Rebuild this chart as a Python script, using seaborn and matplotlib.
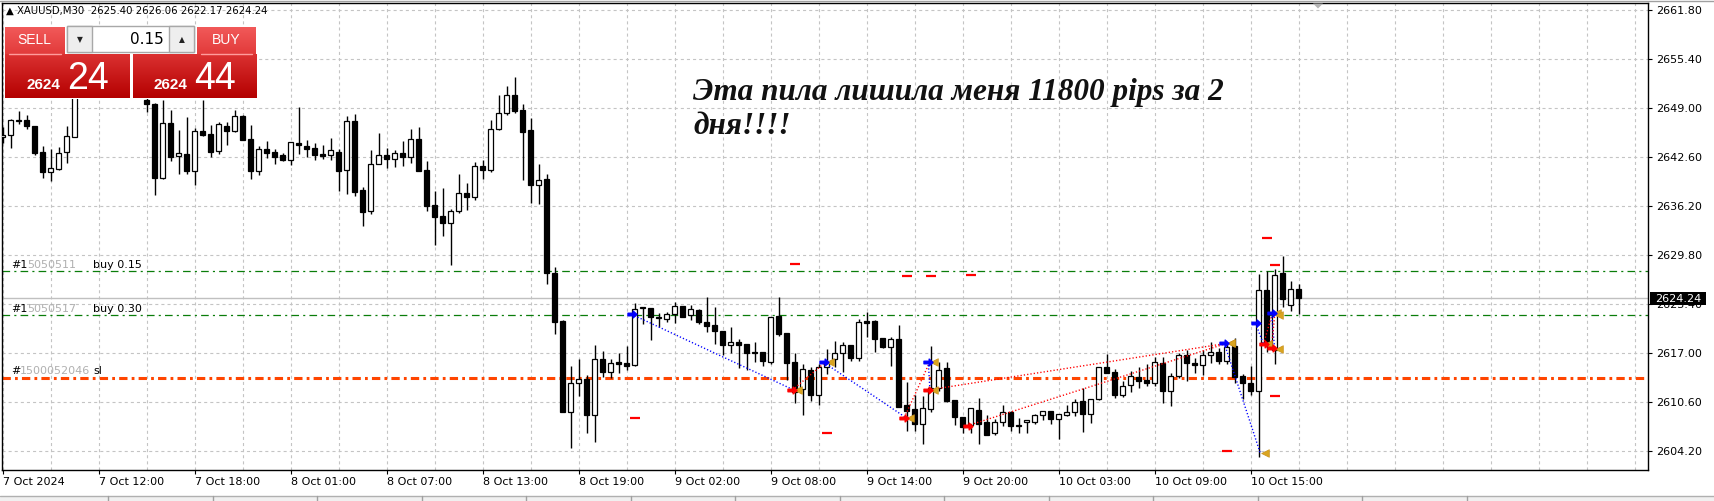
import numpy as np
import pandas as pd
import matplotlib
matplotlib.use("Agg")
import matplotlib.pyplot as plt
from matplotlib.colors import LinearSegmentedColormap
from matplotlib.path import Path
import matplotlib.patches as mpatches
import seaborn as sns

# ---------------- data ----------------
x_labels = ["7 Oct 2024", "7 Oct 12:00", "7 Oct 18:00", "8 Oct 01:00", "8 Oct 07:00",
            "8 Oct 13:00", "8 Oct 19:00", "9 Oct 02:00", "9 Oct 08:00", "9 Oct 14:00",
            "9 Oct 20:00", "10 Oct 03:00", "10 Oct 09:00", "10 Oct 15:00"]
price_ticks = [2604.20, 2610.60, 2617.00, 2623.40, 2629.80,
               2636.20, 2642.60, 2649.00, 2655.40, 2661.80]

opens = [2645.21, 2645.47, 2647.35, 2647.47, 2646.69, 2643.29, 2640.64, 2641.12, 2643.25, 2645.30,
         2652.10, 2653.60, 2652.80, 2651.60, 2653.20, 2654.70, 2653.50, 2651.90, 2650.09, 2649.56,
         2639.94, 2647.08, 2642.73, 2642.99, 2640.77, 2646.04, 2645.64, 2643.38, 2646.65, 2646.08,
         2648.00, 2644.95, 2640.77, 2643.64, 2643.29, 2642.86, 2642.20, 2644.47, 2644.08, 2643.82,
         2643.03, 2642.86, 2643.29, 2640.90, 2647.30, 2638.29, 2635.54, 2641.77, 2642.86, 2642.42,
         2643.12, 2642.68, 2644.95, 2640.94, 2636.33, 2634.93, 2633.98, 2635.54, 2637.89, 2637.46,
         2641.42, 2640.90, 2646.25, 2648.34, 2650.70, 2648.78, 2646.17, 2638.94, 2639.77, 2627.44,
         2621.22, 2609.38, 2613.07, 2613.64, 2608.98, 2616.21, 2614.60, 2615.86, 2615.73, 2615.51,
         2622.87, 2622.92, 2621.65, 2621.52, 2622.09, 2623.14, 2621.96, 2622.62, 2621.09, 2620.70,
         2619.92, 2618.04, 2618.48, 2618.22, 2617.17, 2617.17, 2615.91, 2621.87, 2619.65, 2615.87,
         2612.38, 2614.82, 2611.60, 2615.17, 2616.22, 2617.00, 2618.04, 2616.43, 2621.22, 2621.22,
         2618.96, 2617.87, 2618.83, 2610.21, 2609.68, 2607.81, 2609.68, 2612.43, 2615.04, 2610.90,
         2608.68, 2607.59, 2609.55, 2608.03, 2606.55, 2607.99, 2609.29, 2607.68, 2607.99, 2608.07,
         2608.90, 2609.42, 2608.46, 2608.99, 2609.29, 2610.73, 2609.03, 2610.99, 2615.21, 2614.51,
         2611.60, 2612.82, 2613.86, 2613.51, 2613.08, 2615.78, 2612.12, 2614.08, 2616.78, 2615.73,
         2615.43, 2616.73, 2617.17, 2615.95, 2617.95, 2614.03, 2613.12, 2612.12, 2625.27, 2617.43,
         2627.53, 2623.36, 2625.40]
highs = [2646.60, 2647.56, 2648.65, 2648.13, 2646.75, 2644.08, 2643.68, 2643.90, 2646.69, 2652.60,
         2654.30, 2655.00, 2654.10, 2653.70, 2655.40, 2656.10, 2654.20, 2652.80, 2650.30, 2649.74,
         2650.09, 2648.78, 2646.17, 2647.82, 2646.39, 2650.09, 2646.82, 2647.26, 2647.26, 2648.78,
         2648.10, 2646.82, 2644.08, 2644.73, 2643.64, 2643.12, 2644.62, 2649.13, 2644.86, 2644.47,
         2644.21, 2645.12, 2643.64, 2648.00, 2648.26, 2638.72, 2643.56, 2645.77, 2643.82, 2643.56,
         2644.73, 2646.30, 2646.56, 2642.12, 2638.20, 2638.59, 2635.85, 2640.42, 2639.24, 2641.99,
         2642.25, 2647.47, 2650.74, 2651.91, 2653.05, 2649.56, 2647.69, 2641.73, 2640.42, 2628.23,
         2621.30, 2615.39, 2616.26, 2614.16, 2618.08, 2617.30, 2616.26, 2616.99, 2617.99, 2623.53,
         2623.00, 2622.95, 2622.22, 2622.40, 2623.66, 2623.20, 2623.31, 2622.75, 2624.36, 2623.01,
         2619.96, 2620.39, 2618.91, 2618.26, 2618.48, 2617.20, 2621.75, 2624.36, 2619.70, 2617.00,
         2615.60, 2615.17, 2615.60, 2617.52, 2618.61, 2618.48, 2618.10, 2621.53, 2622.35, 2621.30,
         2619.00, 2619.09, 2620.70, 2613.21, 2611.60, 2611.42, 2617.96, 2615.82, 2615.82, 2610.95,
         2608.70, 2609.85, 2611.16, 2608.94, 2608.42, 2610.21, 2609.51, 2608.55, 2608.30, 2609.07,
         2609.51, 2609.45, 2609.05, 2610.25, 2610.99, 2612.47, 2611.00, 2615.20, 2616.95, 2614.90,
         2613.34, 2614.64, 2615.17, 2615.60, 2616.56, 2616.56, 2614.38, 2616.99, 2617.43, 2616.38,
         2617.43, 2618.48, 2617.69, 2618.30, 2619.00, 2614.29, 2615.34, 2627.36, 2627.71, 2628.01,
         2629.75, 2626.44, 2626.06]
lows = [2644.51, 2643.86, 2647.00, 2646.30, 2642.95, 2639.94, 2639.55, 2640.94, 2641.90, 2645.20,
        2650.90, 2652.20, 2651.00, 2651.20, 2652.60, 2653.10, 2651.40, 2650.70, 2648.56, 2637.67,
        2639.72, 2642.16, 2640.46, 2640.46, 2638.98, 2645.38, 2642.68, 2643.03, 2644.21, 2645.90,
        2644.80, 2639.72, 2640.33, 2642.51, 2641.77, 2642.12, 2641.59, 2643.03, 2642.64, 2642.29,
        2642.42, 2642.29, 2638.20, 2637.85, 2637.59, 2633.67, 2635.19, 2641.68, 2641.20, 2641.38,
        2641.46, 2641.86, 2640.85, 2635.63, 2631.15, 2632.32, 2628.58, 2635.28, 2635.76, 2637.07,
        2639.77, 2640.68, 2646.17, 2648.13, 2648.43, 2639.68, 2636.67, 2636.54, 2626.01, 2619.56,
        2609.30, 2604.67, 2611.46, 2606.63, 2605.46, 2613.90, 2613.73, 2614.47, 2614.82, 2615.34,
        2620.83, 2618.74, 2620.39, 2621.13, 2620.96, 2621.70, 2621.35, 2620.83, 2619.83, 2618.26,
        2616.82, 2617.00, 2615.13, 2614.82, 2615.91, 2615.39, 2615.65, 2619.31, 2613.56, 2610.55,
        2608.94, 2610.73, 2610.29, 2614.26, 2615.17, 2614.60, 2616.00, 2616.00, 2619.13, 2617.17,
        2617.65, 2615.39, 2610.00, 2606.90, 2606.90, 2605.20, 2609.38, 2612.12, 2610.70, 2607.68,
        2606.55, 2606.55, 2605.11, 2606.30, 2606.29, 2607.55, 2606.90, 2606.64, 2606.64, 2607.81,
        2608.29, 2607.81, 2605.85, 2608.81, 2608.81, 2606.77, 2607.94, 2610.95, 2614.40, 2611.20,
        2611.33, 2611.99, 2612.43, 2612.77, 2612.73, 2610.55, 2610.12, 2613.77, 2613.43, 2614.47,
        2614.16, 2615.69, 2615.60, 2615.60, 2613.16, 2611.00, 2611.55, 2603.41, 2617.21, 2615.60,
        2623.01, 2622.52, 2622.17]
closes = [2645.47, 2647.43, 2647.40, 2646.73, 2643.21, 2640.72, 2641.16, 2643.12, 2645.34, 2652.10,
          2653.60, 2652.80, 2651.60, 2653.20, 2654.70, 2653.50, 2651.90, 2651.20, 2649.52, 2639.94,
          2647.08, 2642.68, 2643.12, 2640.85, 2646.04, 2645.56, 2643.34, 2646.95, 2645.99, 2647.95,
          2644.86, 2640.77, 2643.64, 2643.21, 2642.68, 2642.29, 2644.60, 2644.25, 2643.73, 2642.94,
          2642.81, 2643.51, 2640.85, 2647.30, 2638.11, 2635.50, 2641.68, 2642.86, 2642.42, 2643.12,
          2642.64, 2644.95, 2640.85, 2636.28, 2634.85, 2633.98, 2635.54, 2637.89, 2637.46, 2641.42,
          2640.99, 2646.25, 2648.34, 2650.70, 2648.69, 2645.86, 2639.03, 2639.59, 2627.44, 2621.13,
          2609.38, 2613.12, 2613.64, 2608.98, 2616.21, 2614.60, 2615.69, 2615.60, 2615.38, 2622.78,
          2622.92, 2621.74, 2621.60, 2622.13, 2623.14, 2621.79, 2622.75, 2621.14, 2620.61, 2619.87,
          2618.13, 2618.48, 2618.13, 2617.09, 2617.09, 2616.04, 2621.70, 2619.57, 2615.74, 2611.95,
          2614.95, 2611.60, 2615.21, 2615.74, 2617.00, 2618.04, 2616.43, 2621.05, 2620.96, 2618.91,
          2617.87, 2618.83, 2610.03, 2609.51, 2607.81, 2609.81, 2612.47, 2614.82, 2610.81, 2608.72,
          2607.42, 2609.81, 2607.81, 2606.38, 2607.99, 2609.29, 2607.55, 2607.46, 2608.29, 2608.94,
          2609.42, 2608.46, 2609.03, 2609.29, 2610.60, 2609.03, 2610.99, 2615.17, 2614.47, 2611.60,
          2612.69, 2614.04, 2613.43, 2613.16, 2615.82, 2612.12, 2614.04, 2616.78, 2615.69, 2615.52,
          2616.78, 2617.17, 2616.04, 2617.82, 2613.95, 2613.08, 2612.12, 2625.27, 2618.43, 2627.23,
          2624.14, 2625.36, 2624.24]

# order levels
level_buy_015 = 2627.71
level_buy_030 = 2621.96
level_sl = 2613.81
last_price = 2624.24

# closed trades: (type, open bar, open price, close bar, close price)
trade_type = ["buy", "sell", "buy", "sell", "buy", "sell", "sell", "buy", "buy", "sell", "buy", "sell"]
trade_open_i = [78.6, 98.7, 102.6, 112.7, 115.7, 115.7, 120.6, 152.7, 156.6, 157.6, 158.6, 158.6]
trade_open_p = [2622.10, 2612.20, 2615.83, 2608.60, 2615.90, 2612.21, 2607.55, 2618.30, 2620.92, 2618.20, 2622.23, 2617.70]
trade_close_i = [98.9, 102.8, 112.9, 115.9, 115.9, 153.0, 153.0, 157.2, 157.6, 158.7, 159.0, 159.0]
trade_close_p = [2612.20, 2615.80, 2608.60, 2615.90, 2612.20, 2618.30, 2618.30, 2603.94, 2618.20, 2622.23, 2617.50, 2622.00]

# stop / take-profit marks of closed orders
mark_i = [79, 99, 103, 113, 116, 121, 153, 158, 159, 159]
mark_p = [2608.51, 2628.63, 2606.55, 2627.10, 2627.10, 2627.19, 2604.24, 2632.02, 2628.54, 2611.43]

# ---------------- figure ----------------
W, H, DPI = 1714, 501, 100

sns.set_theme(style="white")
plt.rcParams['font.family'] = ['DejaVu Sans']
plt.rcParams['lines.scale_dashes'] = False
plt.rcParams['axes.unicode_minus'] = False


def fx(px):
    return px / W


def fy(py):
    return 1 - py / H


fig = plt.figure(figsize=(W / DPI, H / DPI), dpi=DPI)
fig.patch.set_facecolor("white")

AX_L, AX_R, AX_T, AX_B = 1.5, 1648, 3, 470
ax = fig.add_axes([fx(AX_L), fy(AX_B), (AX_R - AX_L) / W, (AX_B - AX_T) / H])
ax.set_facecolor("white")
ax.set_xlim(-0.15, 205.66)
ax.set_ylim(2601.76, 2662.75)

# grid (dashed light gray)
for gx in range(0, 206, 6):
    ax.axvline(gx, color="#c4c4c4", lw=0.8, dashes=(2.2, 2.2), zorder=0)
for gy in price_ticks:
    ax.axhline(gy, color="#c4c4c4", lw=0.8, dashes=(2.2, 2.2), zorder=0)

# order lines
ax.axhline(last_price, color="#c0c0c0", lw=1.0, zorder=1)
ax.axhline(level_buy_015, color="#0a7d0a", lw=0.9, dashes=(5.5, 3, 1.5, 3), zorder=1)
ax.axhline(level_buy_030, color="#0a7d0a", lw=0.9, dashes=(5.5, 3, 1.5, 3), zorder=1)
ax.axhline(level_sl, color="#ff4500", lw=2.2, dashes=(6, 3, 2, 3), zorder=1)

# candles
df = pd.DataFrame({"o": opens, "h": highs, "l": lows, "c": closes})
df["i"] = np.arange(len(df))
df["lo"] = df[["o", "c"]].min(axis=1)
df["ht"] = (df["c"] - df["o"]).abs().clip(lower=0.13)
up = df["c"] >= df["o"]

ax.vlines(df["i"], df["l"], df["h"], color="black", lw=1.0, zorder=3)
ax.bar(df["i"][up], df["ht"][up], bottom=df["lo"][up], width=0.6,
       color="white", edgecolor="black", linewidth=0.9, zorder=4)
ax.bar(df["i"][~up], df["ht"][~up], bottom=df["lo"][~up], width=0.6,
       color="black", edgecolor="black", linewidth=0.9, zorder=4)

# trade history
arrow = Path([(-1, -0.28), (0.15, -0.28), (0.15, -0.75), (1, 0), (0.15, 0.75),
              (0.15, 0.28), (-1, 0.28), (-1, -0.28)],
             [Path.MOVETO] + [Path.LINETO] * 6 + [Path.CLOSEPOLY])
for t, oi, op, ci, cp in zip(trade_type, trade_open_i, trade_open_p, trade_close_i, trade_close_p):
    col = "#0000ff" if t == "buy" else "#ff0000"
    ax.plot([oi, ci], [op, cp], color=col, lw=1.0, dashes=(0.9, 1.5), zorder=5)
for t, oi, op in zip(trade_type, trade_open_i, trade_open_p):
    col = "#0000ff" if t == "buy" else "#ff0000"
    ax.plot(oi, op, marker=arrow, ms=6.5, color=col, mec=col, zorder=7)
closes_df = pd.DataFrame({"i": np.array(trade_close_i) + 0.55, "p": trade_close_p})
sns.scatterplot(data=closes_df, x="i", y="p", marker="<", s=30, color="#daa520",
                edgecolor="#c8901a", linewidth=0.5, ax=ax, zorder=6, legend=False)

marks_df = pd.DataFrame({"i": mark_i, "p": mark_p})
sns.scatterplot(data=marks_df, x="i", y="p", marker="_", s=45, color="#ff0000",
                linewidth=1.6, ax=ax, zorder=6, legend=False)

# level labels
ypx = lambda py: 2663.15 - py * 0.13062
lab_kw = dict(fontsize=8, va="center", zorder=8)
ax.text(1.0, ypx(265), "#1", color="black", **lab_kw)
ax.text(3.05, ypx(265), "5050511", color="#b0b0b0", **lab_kw)
ax.text(11.27, ypx(265), "buy 0.15", color="black", **lab_kw)
ax.text(1.0, ypx(309), "#1", color="black", **lab_kw)
ax.text(3.05, ypx(309), "5050517", color="#b0b0b0", **lab_kw)
ax.text(11.27, ypx(309), "buy 0.30", color="black", **lab_kw)
ax.text(1.0, ypx(371.5), "#", color="black", **lab_kw)
ax.text(2.15, ypx(371.5), "1500052046", color="#b0b0b0", **lab_kw)
ax.text(11.36, ypx(371.5), "sl", color="black", **lab_kw)

# axes: ticks and labels
ax.set_xticks(np.arange(0, 12 * len(x_labels), 12))
ax.set_xticklabels(x_labels)
for lbl in ax.get_xticklabels():
    lbl.set_horizontalalignment("left")
ax.yaxis.tick_right()
ax.set_yticks(price_ticks)
ax.set_yticklabels([f"{v:.2f}" for v in price_ticks])
ax.tick_params(axis="x", length=3, width=0.8, pad=2, labelsize=8, colors="black", bottom=True)
ax.tick_params(axis="y", length=3, width=0.8, pad=2.5, labelsize=8, colors="black", right=True)
ax.grid(False)
for s in ax.spines.values():
    s.set_color("black")
    s.set_linewidth(1.0)
ax.set_xlabel("")
ax.set_ylabel("")

# current price tag on the right axis
fig.add_artist(mpatches.Rectangle((fx(1649.5), fy(305)), (1706 - 1649.5) / W, 13.5 / H,
                                  transform=fig.transFigure, facecolor="black",
                                  edgecolor="none", zorder=20))
fig.text(fx(1655.5), fy(298.5), f"{last_price:.2f}", color="white", fontsize=8,
         va="center", ha="left", zorder=21)

# top strip: symbol header and chart shift marker
fig.add_artist(plt.Line2D([0, 1], [fy(0.6), fy(0.6)], transform=fig.transFigure,
                          color="#a0a0a0", lw=1))
fig.text(fx(6), fy(10.5), "▲ XAUUSD,M30  2625.40 2626.06 2622.17 2624.24",
         fontsize=7.3, va="center", ha="left", color="black")
fig.add_artist(mpatches.Polygon([(fx(1313), fy(3.5)), (fx(1323), fy(3.5)), (fx(1318), fy(8.5))],
                                closed=True, transform=fig.transFigure,
                                facecolor="#b4b4b4", edgecolor="none", zorder=20))

# annotation
note_kw = dict(family=["Liberation Serif", "DejaVu Serif"], fontstyle="italic",
               fontweight="bold", fontsize=22.5, va="baseline", ha="left", color="#111111")
fig.text(fx(693), fy(100), "Эта пила лишила меня 11800 pips за 2", **note_kw)
fig.text(fx(693), fy(134), "дня!!!!", **note_kw)


# one-click trading panel
def grad_box(x0, y0, x1, y1, c_top, c_bot):
    a = fig.add_axes([fx(x0), fy(y1), (x1 - x0) / W, (y1 - y0) / H])
    cmap = LinearSegmentedColormap.from_list("g", [c_top, c_bot])
    a.imshow(np.linspace(0, 1, 64)[:, None], aspect="auto", cmap=cmap,
             extent=[0, 1, 0, 1], origin="upper")
    a.set_axis_off()
    return a


panel_bg = fig.add_axes([fx(4), fy(99), 253 / W, 73.5 / H])
panel_bg.set_facecolor("white")
panel_bg.set_xticks([])
panel_bg.set_yticks([])
for s in panel_bg.spines.values():
    s.set_visible(False)

grad_box(5, 26.5, 64.5, 54, "#f25a5a", "#e23b3b")
grad_box(197, 26.5, 256, 54, "#f25a5a", "#e23b3b")
grad_box(5, 53.5, 129.5, 98, "#dc3232", "#b40000")
grad_box(132.5, 53.5, 256, 98, "#dc3232", "#b40000")

for xa, xb in [(9, 61), (200.5, 252.5)]:
    fig.add_artist(plt.Line2D([fx(xa), fx(xb)], [fy(53.5), fy(53.5)], transform=fig.transFigure,
                              color="#ff9c9c", lw=1, zorder=30))

# lot box
fig.add_artist(mpatches.Rectangle((fx(67), fy(52)), (194 - 67) / W, 25.5 / H,
                                  transform=fig.transFigure, facecolor="white",
                                  edgecolor="#a8a8a8", lw=1, zorder=30))
for xa, xb in [(67, 92), (169, 194)]:
    fig.add_artist(mpatches.Rectangle((fx(xa), fy(52)), (xb - xa) / W, 25.5 / H,
                                      transform=fig.transFigure, facecolor="#eeeeee",
                                      edgecolor="#a8a8a8", lw=1, zorder=31))
fig.text(fx(79.5), fy(39.5), "▼", fontsize=5.5, ha="center", va="center", color="#222222", zorder=32)
fig.text(fx(181.5), fy(39.5), "▲", fontsize=5.5, ha="center", va="center", color="#222222", zorder=32)
fig.text(fx(163.5), fy(39.5), "0.15", fontsize=11, ha="right", va="center", color="black", zorder=32)

btn_kw = dict(color="white", zorder=40, family=["Liberation Sans", "DejaVu Sans"])
fig.text(fx(34.5), fy(40), "SELL", fontsize=10, ha="center", va="center", **btn_kw)
fig.text(fx(226), fy(40), "BUY", fontsize=10, ha="center", va="center", **btn_kw)
fig.text(fx(26.5), fy(88.7), "2624", fontsize=11, fontweight="bold", ha="left", va="baseline", **btn_kw)
fig.text(fx(67), fy(89.3), "24", fontsize=27, ha="left", va="baseline", **btn_kw)
fig.text(fx(153.5), fy(88.7), "2624", fontsize=11, fontweight="bold", ha="left", va="baseline", **btn_kw)
fig.text(fx(194), fy(89.3), "44", fontsize=27, ha="left", va="baseline", **btn_kw)

# bottom tab strip
fig.add_artist(mpatches.Rectangle((0, 0), 1, 5.5 / H, transform=fig.transFigure,
                                  facecolor="#f0f0f0", edgecolor="none", zorder=50))
fig.add_artist(plt.Line2D([0, 1], [fy(495.5), fy(495.5)], transform=fig.transFigure,
                          color="#b0b0b0", lw=1, zorder=51))
for sx in np.arange(108, 1500, 104.5):
    fig.add_artist(plt.Line2D([fx(sx), fx(sx)], [0, fy(495.5)], transform=fig.transFigure,
                              color="#a0a0a0", lw=1, zorder=51))

fig.savefig("out.png", dpi=DPI)
